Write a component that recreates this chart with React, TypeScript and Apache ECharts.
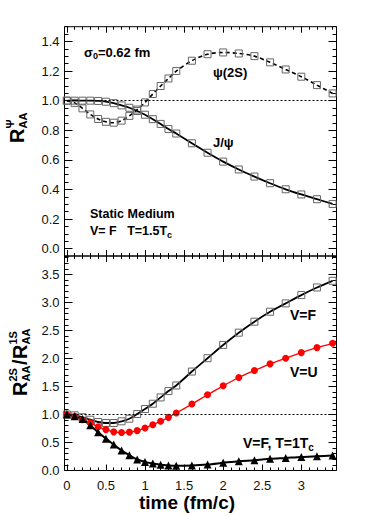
import React, { useEffect, useRef } from "react";
import * as echarts from "echarts";

// time points (fm/c)
const times = [0, 0.1, 0.2, 0.3, 0.4, 0.5, 0.6, 0.7, 0.8, 0.9, 1.0, 1.1, 1.2, 1.3, 1.4, 1.6, 1.8, 2.0, 2.2, 2.4, 2.6, 2.8, 3.0, 3.2, 3.4];

// top panel: R_AA
const jpsiRaa = [1.0, 1.0, 1.0, 1.0, 0.998, 0.993, 0.983, 0.968, 0.952, 0.93, 0.905, 0.875, 0.843, 0.808, 0.778, 0.712, 0.648, 0.588, 0.535, 0.487, 0.442, 0.401, 0.366, 0.334, 0.302];
const psi2sRaa = [1.0, 0.985, 0.948, 0.907, 0.876, 0.857, 0.851, 0.865, 0.897, 0.94, 0.988, 1.045, 1.099, 1.15, 1.2, 1.27, 1.314, 1.326, 1.319, 1.301, 1.259, 1.211, 1.162, 1.105, 1.049];

// bottom panel: ratio 2S/1S
const ratioVF = [1.0, 0.985, 0.95, 0.907, 0.866, 0.848, 0.848, 0.878, 0.925, 1.008, 1.097, 1.192, 1.305, 1.418, 1.518, 1.767, 2.005, 2.242, 2.461, 2.657, 2.835, 2.984, 3.132, 3.268, 3.387];
const ratioVU = [1.0, 0.97, 0.907, 0.85, 0.78, 0.73, 0.69, 0.68, 0.685, 0.712, 0.76, 0.818, 0.878, 0.949, 1.026, 1.186, 1.352, 1.512, 1.66, 1.785, 1.904, 2.005, 2.105, 2.194, 2.272];
const ratioT1 = [1.0, 0.97, 0.92, 0.806, 0.682, 0.569, 0.463, 0.356, 0.273, 0.196, 0.154, 0.125, 0.101, 0.089, 0.083, 0.089, 0.107, 0.137, 0.166, 0.184, 0.208, 0.225, 0.243, 0.255, 0.267];

// ticks
const xMajor = [0, 0.5, 1, 1.5, 2, 2.5, 3];
const topYMajor = [0, 0.2, 0.4, 0.6, 0.8, 1.0, 1.2, 1.4];
const botYMajor = [0, 0.5, 1, 1.5, 2, 2.5, 3, 3.5];

const X_MIN = -0.03;
const X_MAX = 3.45;
const TOP_MIN = -0.05;
const TOP_MAX = 1.5;
const BOT_MIN = 0;
const BOT_MAX = 3.83;

const FONT = '"Liberation Sans", Arial, Helvetica, sans-serif';

function minorList(min: number, max: number, step: number, majorStep: number) {
  const out: number[] = [];
  const start = Math.ceil(min / step - 1e-9);
  const end = Math.floor(max / step + 1e-9);
  for (let k = start; k <= end; k++) {
    const v = Math.round(k * step * 1000) / 1000;
    const r = v / majorStep;
    if (Math.abs(r - Math.round(r)) > 1e-6) out.push(v);
  }
  return out;
}

const pair = (xs: number[], ys: number[]) => xs.map((x, i) => [x, ys[i]]);

function App() {
  const ref = useRef<HTMLDivElement>(null);
  useEffect(() => {
    if (!ref.current) return;
    const chart = echarts.init(ref.current, null, { renderer: "svg" });

    const xMinor = minorList(X_MIN, X_MAX, 0.1, 0.5);
    const topYMinor = minorList(TOP_MIN, TOP_MAX, 0.05, 0.2);
    const botYMinor = minorList(BOT_MIN, BOT_MAX, 0.1, 0.5);

    const labelStyle = { color: "#111", fontSize: 13, fontFamily: FONT };

    const xAx = (grid: number, pos: string, vals: number[], len: number, label: boolean) => ({
      type: "value",
      gridIndex: grid,
      position: pos,
      min: X_MIN,
      max: X_MAX,
      axisLine: { show: false, onZero: false },
      axisTick: { show: true, inside: true, length: len, customValues: vals, lineStyle: { color: "#000", width: 1 } },
      axisLabel: label
        ? { show: true, customValues: vals, margin: 8, ...labelStyle, formatter: (v: number) => String(v) }
        : { show: false },
      splitLine: { show: false },
    });
    const yAx = (grid: number, pos: string, min: number, max: number, vals: number[], len: number, label: boolean) => ({
      type: "value",
      gridIndex: grid,
      position: pos,
      min,
      max,
      axisLine: { show: false, onZero: false },
      axisTick: { show: true, inside: true, length: len, customValues: vals, lineStyle: { color: "#000", width: 1 } },
      axisLabel: label
        ? { show: true, customValues: vals, margin: 5, ...labelStyle, formatter: (v: number) => v.toFixed(1) }
        : { show: false },
      splitLine: { show: false },
    });

    const xAxis = [
      xAx(0, "bottom", xMajor, 6, false), // 0
      xAx(0, "bottom", xMinor, 3, false),
      xAx(0, "top", xMajor, 6, false),
      xAx(0, "top", xMinor, 3, false),
      xAx(1, "bottom", xMajor, 6, true), // 4
      xAx(1, "bottom", xMinor, 3, false),
      xAx(1, "top", xMajor, 6, false),
      xAx(1, "top", xMinor, 3, false),
    ];
    const yAxis = [
      yAx(0, "left", TOP_MIN, TOP_MAX, topYMajor, 8, true), // 0
      yAx(0, "left", TOP_MIN, TOP_MAX, topYMinor, 4, false),
      yAx(0, "right", TOP_MIN, TOP_MAX, topYMajor, 8, false),
      yAx(0, "right", TOP_MIN, TOP_MAX, topYMinor, 4, false),
      yAx(1, "left", BOT_MIN, BOT_MAX, botYMajor, 8, true), // 4
      yAx(1, "left", BOT_MIN, BOT_MAX, botYMinor, 4, false),
      yAx(1, "right", BOT_MIN, BOT_MAX, botYMajor, 8, false),
      yAx(1, "right", BOT_MIN, BOT_MAX, botYMinor, 4, false),
    ];

    const refLine = {
      silent: true,
      symbol: "none",
      label: { show: false },
      lineStyle: { color: "#000", type: [2, 2], width: 1 },
      data: [{ yAxis: 1 }],
    };

    const txt = (text: string, x: number, y: number, size: number, extra: any = {}) => ({
      type: "text",
      x,
      y,
      silent: true,
      style: {
        text,
        font: `bold ${size}px ${FONT}`,
        fill: "#000",
        align: "left",
        verticalAlign: "middle",
        textAlign: "left",
        textVerticalAlign: "middle",
        ...extra,
      },
    });

    const subRich = (size: number) => ({
      m: { fontSize: size, fontWeight: "bold", fontFamily: FONT, color: "#000", lineHeight: size + 4 },
      s: { fontSize: Math.round(size * 0.68), fontWeight: "bold", fontFamily: FONT, color: "#000", lineHeight: 4, verticalAlign: "bottom" },
    });

    const option: any = {
      animation: false,
      backgroundColor: "#fff",
      grid: [
        { left: 64.5, top: 26.7, width: 272, height: 229.3, show: true, borderColor: "#000", borderWidth: 1, backgroundColor: "transparent", containLabel: false, outerBoundsMode: "none" },
        { left: 64.5, top: 256, width: 272, height: 214.5, show: true, borderColor: "#000", borderWidth: 1, backgroundColor: "transparent", containLabel: false, outerBoundsMode: "none" },
      ],
      xAxis,
      yAxis,
      series: [
        {
          name: "J/psi",
          type: "line",
          xAxisIndex: 0,
          yAxisIndex: 0,
          data: pair(times, jpsiRaa),
          smooth: 0.3,
          symbol: "rect",
          symbolSize: 7,
          itemStyle: { color: "transparent", borderColor: "#666", borderWidth: 1 },
          lineStyle: { color: "#000", width: 1.8 },
          z: 3,
          markLine: refLine,
        },
        {
          name: "psi(2S)",
          type: "line",
          xAxisIndex: 0,
          yAxisIndex: 0,
          data: pair(times, psi2sRaa),
          smooth: 0.3,
          symbol: "rect",
          symbolSize: 7,
          itemStyle: { color: "transparent", borderColor: "#666", borderWidth: 1 },
          lineStyle: { color: "#000", width: 1.6, type: [4, 3] },
          z: 3,
        },
        {
          name: "V=F",
          type: "line",
          xAxisIndex: 4,
          yAxisIndex: 4,
          data: pair(times, ratioVF),
          smooth: 0.3,
          symbol: "rect",
          symbolSize: 7,
          itemStyle: { color: "transparent", borderColor: "#666", borderWidth: 1 },
          lineStyle: { color: "#000", width: 1.8 },
          z: 3,
          markLine: refLine,
        },
        {
          name: "V=U",
          type: "line",
          xAxisIndex: 4,
          yAxisIndex: 4,
          data: pair(times, ratioVU),
          smooth: 0.3,
          symbol: "circle",
          symbolSize: 7,
          itemStyle: { color: "#ff0000", borderWidth: 0 },
          lineStyle: { color: "#ff0000", width: 1.3 },
          z: 4,
        },
        {
          name: "V=F, T=1Tc",
          type: "line",
          xAxisIndex: 4,
          yAxisIndex: 4,
          data: pair(times, ratioT1),
          smooth: 0.3,
          symbol: "triangle",
          symbolSize: 8,
          itemStyle: { color: "#000", borderWidth: 0 },
          lineStyle: { color: "#000", width: 2 },
          z: 4,
        },
      ],
      graphic: [
        // top panel annotations
        {
          type: "text",
          x: 84,
          y: 52,
          silent: true,
          style: {
            text: "{m|σ}{s|0}{m|=0.62 fm}",
            rich: subRich(13),
            align: "left",
            verticalAlign: "middle",
            textAlign: "left",
            textVerticalAlign: "middle",
          },
        },
        txt("ψ(2S)", 213, 72, 13),
        txt("J/ψ", 213, 142, 13),
        txt("Static Medium", 90, 214, 12.5),
        {
          type: "text",
          x: 90,
          y: 231,
          silent: true,
          style: {
            text: "{m|V= F   T=1.5T}{s|c}",
            rich: subRich(12.5),
            align: "left",
            verticalAlign: "middle",
            textAlign: "left",
            textVerticalAlign: "middle",
          },
        },
        // bottom panel annotations
        txt("V=F", 290, 315, 14),
        txt("V=U", 290, 372, 14),
        {
          type: "text",
          x: 243,
          y: 443,
          silent: true,
          style: {
            text: "{m|V=F, T=1T}{s|c}",
            rich: subRich(14),
            align: "left",
            verticalAlign: "middle",
            textAlign: "left",
            textVerticalAlign: "middle",
          },
        },
        // x title
        txt("time (fm/c)", 187, 502, 19, { align: "center", textAlign: "center" }),
        // top y title
        {
          type: "group",
          x: 17,
          y: 143,
          rotation: Math.PI / 2,
          children: [
            txt("R", 0, 0, 20),
            txt("Ψ", 14.5, -7, 11),
            txt("AA", 14.5, 6, 11),
          ],
        },
        // bottom y title
        {
          type: "group",
          x: 20,
          y: 396,
          rotation: Math.PI / 2,
          children: [
            txt("R", 0, 0, 20),
            txt("2S", 14.5, -7, 11),
            txt("AA", 14.5, 6, 11),
            txt("/", 31, 0, 20),
            txt("R", 37, 0, 20),
            txt("1S", 51.5, -7, 11),
            txt("AA", 51.5, 6, 11),
          ],
        },
      ],
    };

    chart.setOption(option);
    return () => chart.dispose();
  }, []);

  return <div ref={ref} style={{ width: 374, height: 516, position: "absolute", left: 0, top: 0 }} />;
}

export default App;
